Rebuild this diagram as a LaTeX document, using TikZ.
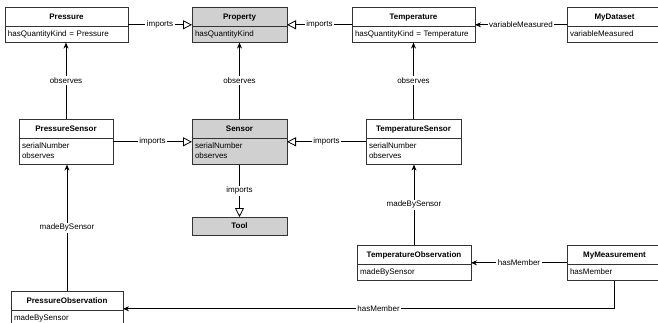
\documentclass[tikz,border=0pt]{standalone}
\usepackage{fontspec}
\setmainfont{Liberation Sans}
\usetikzlibrary{arrows.meta,positioning,shapes.multipart}
\definecolor{classgray}{HTML}{D0D0D0}
\definecolor{classline}{HTML}{333333}
\tikzset{
  classbox/.style={draw=classline,line width=0.8pt,fill=white,rectangle split,rectangle split parts=2,anchor=north west,inner xsep=3pt,inner ysep=2.5pt,outer sep=0pt,align=left,font=\fontsize{8}{10}\selectfont},
  basebox/.style={classbox,fill=classgray},
  toolbox/.style={draw=classline,line width=0.8pt,fill=classgray,anchor=north west,minimum width=95pt,minimum height=18pt,outer sep=0pt,font=\fontsize{8}{10}\selectfont\bfseries},
  importsline/.style={-{Triangle[open,length=9pt,width=9pt,fill=white]},line width=0.8pt},
  relline/.style={-{Stealth[length=6pt,width=5pt]},line width=0.8pt},
  rellabel/.style={fill=white,inner sep=1.5pt,font=\fontsize{8}{10}\selectfont}
}
\newcommand{\classname}[1]{\centering\bfseries\rule[-4pt]{0pt}{14pt}#1\par}

\begin{document}
\begin{tikzpicture}[x=1pt,y=-1pt]
  \useasboundingbox (0,0) rectangle (658,323);
  \clip (0,0) rectangle (658,323);
  % classes
  \node[classbox,text width=117pt] (pressure) at (5,7) {\classname{Pressure}\nodepart{two}\strut hasQuantityKind = Pressure};
  \node[basebox,text width=89pt] (property) at (192,7) {\classname{Property}\nodepart{two}\strut hasQuantityKind};
  \node[classbox,text width=117pt] (temperature) at (352,7) {\classname{Temperature}\nodepart{two}\strut hasQuantityKind = Temperature};
  \node[classbox,text width=89pt] (dataset) at (567,7) {\classname{MyDataset}\nodepart{two}\strut variableMeasured};
  \node[classbox,text width=88pt] (psensor) at (19,119) {\classname{PressureSensor}\nodepart{two}\strut serialNumber\\\strut observes};
  \node[basebox,text width=89pt] (sensor) at (192,119) {\classname{Sensor}\nodepart{two}\strut serialNumber\\\strut observes};
  \node[classbox,text width=89pt] (tsensor) at (366,119) {\classname{TemperatureSensor}\nodepart{two}\strut serialNumber\\\strut observes};
  \node[toolbox] (tool) at (192,217) {Tool};
  \node[classbox,text width=108pt] (tobs) at (357,245) {\classname{TemperatureObservation}\nodepart{two}\strut madeBySensor};
  \node[classbox,text width=89pt] (measurement) at (567,245) {\classname{MyMeasurement}\nodepart{two}\strut hasMember};
  \node[classbox,text width=106pt] (pobs) at (11,291) {\classname{PressureObservation}\nodepart{two}\strut madeBySensor};
  % imports
  \draw[importsline] (pressure.east) -- node[rellabel] {imports} (property.west);
  \draw[importsline] (temperature.west) -- node[rellabel] {imports} (property.east);
  \draw[importsline] (psensor.east) -- node[rellabel] {imports} (sensor.west);
  \draw[importsline] (tsensor.west) -- node[rellabel] {imports} (sensor.east);
  \draw[importsline] (sensor.south) -- node[rellabel] {imports} (tool.north);
  % properties
  \draw[relline] (dataset.west) -- node[rellabel] {variableMeasured} (temperature.east);
  \draw[relline] (psensor.north) -- node[rellabel] {observes} (psensor.north |- pressure.south);
  \draw[relline] (sensor.north) -- node[rellabel] {observes} (property.south);
  \draw[relline] (tsensor.north) -- node[rellabel] {observes} (tsensor.north |- temperature.south);
  \draw[relline] (tobs.north) -- node[rellabel] {madeBySensor} (tobs.north |- tsensor.south);
  \draw[relline] (pobs.north) -- node[rellabel] {madeBySensor} (pobs.north |- psensor.south);
  \draw[relline] (measurement.west) -- node[rellabel] {hasMember} (tobs.east);
  \draw[relline] (measurement.south) |- node[rellabel,pos=0.74] {hasMember} (pobs.east);
\end{tikzpicture}
\end{document}
